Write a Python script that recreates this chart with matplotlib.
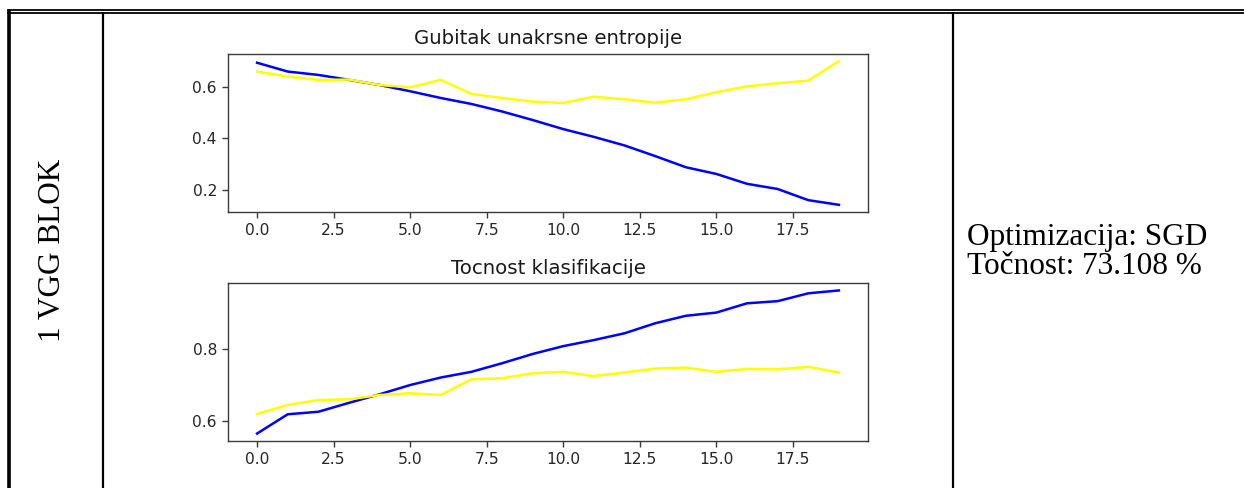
import matplotlib.pyplot as plt
from matplotlib.lines import Line2D

# Training history (20 epochs)
epochs = list(range(20))
train_loss = [0.692, 0.658, 0.645, 0.626, 0.606, 0.582, 0.556, 0.533, 0.504, 0.471,
              0.436, 0.406, 0.373, 0.332, 0.289, 0.263, 0.225, 0.205, 0.162, 0.144]
val_loss = [0.658, 0.639, 0.626, 0.627, 0.606, 0.597, 0.626, 0.572, 0.556, 0.542,
            0.537, 0.561, 0.551, 0.538, 0.551, 0.578, 0.601, 0.613, 0.623, 0.698]
train_acc = [0.564, 0.618, 0.625, 0.650, 0.674, 0.700, 0.721, 0.737, 0.761, 0.787,
             0.809, 0.826, 0.845, 0.873, 0.894, 0.903, 0.929, 0.935, 0.957, 0.965]
val_acc = [0.619, 0.644, 0.658, 0.660, 0.672, 0.677, 0.672, 0.716, 0.719, 0.733,
           0.737, 0.725, 0.735, 0.746, 0.749, 0.737, 0.745, 0.744, 0.751, 0.735]

W, H = 1244, 488
fig = plt.figure(figsize=(W / 100, H / 100), dpi=100)


def fx(x):
    return x / W


def fy(y):
    return 1 - y / H


def table_line(x1, y1, x2, y2, lw):
    fig.add_artist(Line2D([fx(x1), fx(x2)], [fy(y1), fy(y2)], color='black',
                          linewidth=lw, transform=fig.transFigure, solid_capstyle='butt'))


# table borders
table_line(7, 10.2, W, 10.2, 1.3)
table_line(7, 12.9, W, 12.9, 1.3)
table_line(9.2, 9.5, 9.2, H, 2.6)
table_line(102.7, 12, 102.7, H, 1.6)
table_line(953, 12, 953, H, 1.6)


def make_axes(top, bottom):
    ax = fig.add_axes([fx(228), fy(bottom), fx(868) - fx(228), (bottom - top) / H])
    for sp in ax.spines.values():
        sp.set_color('#3a3a3a')
        sp.set_linewidth(1.0)
    ax.tick_params(labelsize=11.2, length=4.5, width=1.0, color='#3a3a3a', labelcolor='#262626')
    return ax


ax1 = make_axes(54, 212)
ax1.plot(epochs, train_loss, color='blue', linewidth=1.8)
ax1.plot(epochs, val_loss, color='yellow', linewidth=1.8)
ax1.set_title('Gubitak unakrsne entropije', fontsize=14.2, pad=7, color='#1a1a1a')
ax1.set_yticks([0.2, 0.4, 0.6])

ax2 = make_axes(283.3, 440.7)
ax2.plot(epochs, train_acc, color='blue', linewidth=1.8)
ax2.plot(epochs, val_acc, color='yellow', linewidth=1.8)
ax2.set_title('Tocnost klasifikacije', fontsize=14.2, pad=7, color='#1a1a1a')
ax2.set_yticks([0.6, 0.8])

for ax in (ax1, ax2):
    ax.set_xticks([0.0, 2.5, 5.0, 7.5, 10.0, 12.5, 15.0, 17.5])

# table cell texts
serif = 'Liberation Serif'
fig.text(fx(52.5), fy(250.5), '1 VGG BLOK', rotation=90, ha='center', va='center',
         family=serif, fontsize=22.5)
fig.text(fx(967), fy(245), 'Optimizacija: SGD', ha='left', va='baseline',
         family=serif, fontsize=22.5)
fig.text(fx(967), fy(274), 'Točnost: 73.108 %', ha='left', va='baseline',
         family=serif, fontsize=22.5)

fig.savefig('out.png', dpi=100, facecolor='white')
